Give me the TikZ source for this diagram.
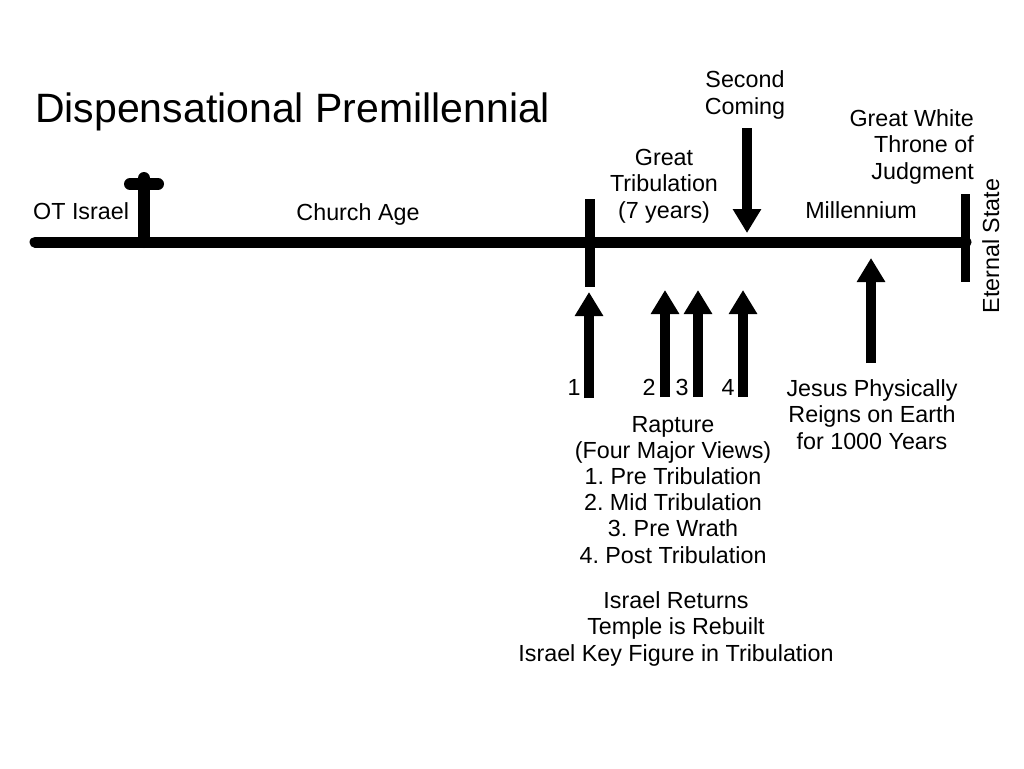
\documentclass[tikz,border=0pt]{standalone}
\usepackage{fontspec}
\setmainfont{Liberation Sans}
\usetikzlibrary{arrows.meta}
\frenchspacing
\begin{document}
\begin{tikzpicture}[x=1pt,y=-1pt,font=\fontsize{23.3}{26.2}\selectfont,
  every node/.style={inner sep=0pt},
  bar/.style={line width=10pt},
  arr/.style={line width=10pt,-{Triangle[width=27pt,length=24pt]}}]
\useasboundingbox (0,0) rectangle (1024,768);
\node[anchor=base west,font=\fontsize{41}{46}\selectfont] (title) at (35,122) {Dispensational Premillennial};
% time line and cross
\draw[line width=11pt,line cap=round] (35,242) -- (966,242);
\draw[line width=12pt,line cap=round] (144,242) -- (144,178) (130,184) -- (158,184);
\draw[bar] (590,199) -- (590,287);
\draw[line width=9pt] (965,194) -- (965,282);
\node[anchor=base west] (ot) at (33,219) {OT Israel};
\node[anchor=base] (church) at (358,220) {Church Age};
\node[anchor=base,align=center] (great) at (664,218) {Great\\Tribulation\\(7 years)};
\node[anchor=base,align=center] (second) at (745,114) {Second\\Coming};
\node[anchor=base east,align=right] (throne) at (974,179) {Great White\\Throne of\\Judgment};
\node[anchor=base] (mill) at (861,218) {Millennium};
\node[anchor=base,rotate=90] (eternal) at (999,246) {Eternal State};
% arrows
\draw[arr] (747,128) -- (747,233);
\draw[arr] (589,398) -- (589,292);
\foreach \x in {665,698,743} \draw[arr] (\x,397) -- (\x,290);
\draw[arr] (871,363) -- (871,258);
\foreach \x/\n in {574/1,649/2,682/3,728/4} \node[anchor=base] (n\n) at (\x,395) {\n};
\node[anchor=base,align=center] (jesus) at (872,449) {Jesus Physically\\Reigns on Earth\\for 1000 Years};
\node[anchor=base,align=center] (rapture) at (673,563) {Rapture\\(Four Major Views)\\1. Pre Tribulation\\2. Mid Tribulation\\3. Pre Wrath\\4. Post Tribulation};
\node[anchor=base,align=center] (israel) at (676,661) {Israel Returns\\Temple is Rebuilt\\Israel Key Figure in Tribulation};
\end{tikzpicture}
\end{document}
